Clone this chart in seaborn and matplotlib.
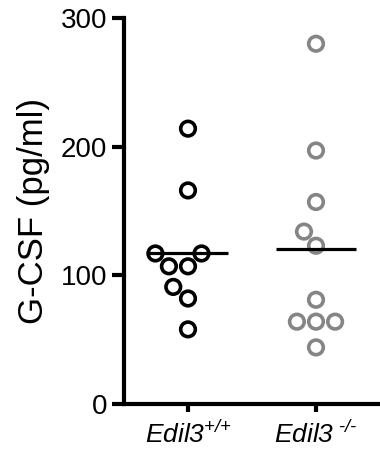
import numpy as np
import pandas as pd
import seaborn as sns
import matplotlib
matplotlib.use("Agg")
from matplotlib import pyplot as plt

# values (pg/ml)
wt_values = [214, 166, 117, 117, 107, 107, 91, 82, 58]
ko_values = [280, 197, 157, 134, 123, 81, 64, 64, 64, 44]
groups = ["WT", "KO"]
group_colors = {"WT": "black", "KO": "#858585"}
tick_labels = [r"Edil3$^{\text{+/+}}$", r"Edil3$^{\text{ -/-}}$"]
y_ticks = [0, 100, 200, 300]

df = pd.DataFrame({
    "group": ["WT"] * len(wt_values) + ["KO"] * len(ko_values),
    "value": wt_values + ko_values,
})

sns.set_style("ticks")
plt.rcParams["font.family"] = ["Liberation Sans", "DejaVu Sans"]
plt.rcParams["mathtext.fontset"] = "custom"
plt.rcParams["mathtext.rm"] = "Liberation Sans:italic"
plt.rcParams["mathtext.it"] = "Liberation Sans:italic"
plt.rcParams["mathtext.default"] = "it"
for k in ["text.color", "axes.labelcolor", "xtick.color", "ytick.color", "axes.edgecolor"]:
    plt.rcParams[k] = "black"

fig = plt.figure(figsize=(3.8, 4.49), dpi=100)
ax = fig.add_axes([124 / 380, 1 - 404 / 449, 1 - 124 / 380, (404 - 18) / 449])

sns.swarmplot(data=df, x="group", y="value", hue="group", order=groups,
              palette=group_colors, size=10.5, linewidth=2.6, legend=False, ax=ax)

# hollow circles: edge takes the group colour
for coll in ax.collections:
    fc = coll.get_facecolors()
    coll.set_edgecolors(fc)
    coll.set_facecolors("white")

# mean lines
means = df.groupby("group")["value"].mean().reindex(groups)
for i, m in enumerate(means):
    ax.hlines(m, i - 0.31, i + 0.31, color="black", lw=2.3, zorder=5)

ax.set_xlim(-0.5, 1.5)
ax.set_ylim(0, 300)
ax.set_yticks(y_ticks)
ax.set_xticks(range(len(groups)))
ax.set_xticklabels(tick_labels, fontsize=19, fontstyle="italic")
ax.set_xlabel("")
ax.set_ylabel("G-CSF (pg/ml)", fontsize=25, labelpad=8)

for s in ["top", "right"]:
    ax.spines[s].set_visible(False)
for s in ["left", "bottom"]:
    ax.spines[s].set_linewidth(3)
ax.tick_params(axis="y", length=9, width=3, labelsize=20, pad=3)
ax.tick_params(axis="x", length=6, width=3, pad=6)

fig.savefig("out.png", dpi=100)
